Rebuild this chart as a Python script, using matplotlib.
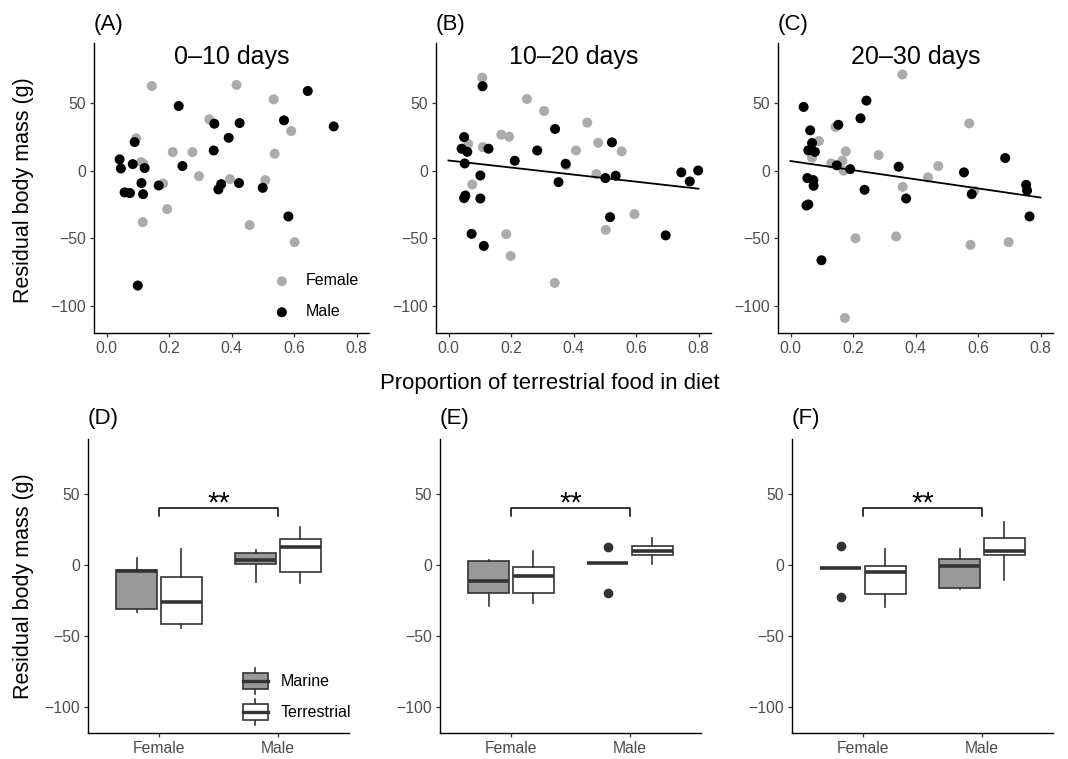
import matplotlib
matplotlib.use('Agg')
import matplotlib.pyplot as plt
from matplotlib.legend_handler import HandlerBase
from matplotlib.patches import Rectangle, Patch
from matplotlib.lines import Line2D
import numpy as np

plt.rcParams['font.family'] = ['Liberation Sans', 'DejaVu Sans']

# ---- scatter data (proportion terrestrial food, residual mass) ----
a_fem_x = [0.145, 0.416, 0.535, 0.329, 0.591, 0.095, 0.111, 0.118, 0.212, 0.275,
           0.538, 0.296, 0.395, 0.508, 0.181, 0.194, 0.116, 0.458, 0.602]
a_fem_y = [62.7, 63.5, 52.8, 38.0, 29.4, 24.0, 6.4, 5.2, 13.8, 13.8,
           12.6, -4.0, -6.2, -6.9, -9.4, -28.4, -38.0, -40.2, -52.8]
a_male_x = [0.644, 0.231, 0.568, 0.727, 0.345, 0.426, 0.391, 0.090, 0.343, 0.042,
            0.046, 0.084, 0.243, 0.122, 0.112, 0.167, 0.058, 0.075, 0.117, 0.424,
            0.367, 0.358, 0.500, 0.582, 0.100]
a_male_y = [59.0, 47.9, 37.3, 32.8, 34.8, 35.3, 24.4, 21.2, 15.0, 8.4,
            1.7, 4.9, 3.5, 2.0, -9.1, -10.9, -16.0, -16.5, -17.3, -9.1,
            -9.9, -13.8, -12.6, -33.8, -84.9]

b_fem_x = [0.108, 0.251, 0.306, 0.444, 0.169, 0.194, 0.479, 0.063, 0.110, 0.408,
           0.554, 0.376, 0.473, 0.076, 0.595, 0.503, 0.185, 0.199, 0.340]
b_fem_y = [68.9, 53.1, 44.2, 35.6, 26.7, 25.2, 20.7, 20.0, 17.5, 15.0,
           14.3, 4.0, -2.5, -10.1, -32.1, -43.7, -46.9, -63.0, -83.0]
b_male_x = [0.109, 0.050, 0.341, 0.523, 0.042, 0.060, 0.128, 0.284, 0.212, 0.052,
            0.375, 0.102, 0.352, 0.502, 0.535, 0.745, 0.772, 0.799, 0.054, 0.050,
            0.102, 0.517, 0.074, 0.113, 0.695]
b_male_y = [62.5, 24.9, 30.9, 21.0, 16.3, 14.0, 16.3, 15.0, 7.4, 5.4,
            5.2, -3.5, -8.4, -5.4, -3.7, -1.2, -7.9, 0.2, -18.3, -20.2,
            -20.5, -34.3, -46.7, -55.6, -47.8]

c_fem_x = [0.358, 0.572, 0.144, 0.091, 0.177, 0.282, 0.069, 0.166, 0.130, 0.473,
           0.170, 0.440, 0.359, 0.588, 0.208, 0.338, 0.576, 0.698, 0.174]
c_fem_y = [71.2, 35.0, 32.3, 22.0, 14.3, 11.6, 9.6, 7.4, 5.4, 3.5,
           0.0, -4.9, -11.9, -14.8, -49.9, -48.6, -54.8, -52.8, -108.9]
c_male_x = [0.243, 0.042, 0.224, 0.153, 0.063, 0.069, 0.057, 0.078, 0.687, 0.148,
            0.346, 0.191, 0.555, 0.054, 0.073, 0.074, 0.237, 0.754, 0.757, 0.580,
            0.370, 0.051, 0.057, 0.765, 0.099]
c_male_y = [51.9, 47.2, 38.8, 34.0, 29.9, 20.5, 15.1, 14.0, 9.4, 4.0,
            3.0, 1.2, -1.2, -5.4, -6.9, -11.1, -14.1, -10.4, -14.6, -17.3,
            -20.5, -25.7, -24.9, -33.8, -66.2]

# fitted lines (intercept, slope) for panels B and C
fit_b = (7.6, -26.1)
fit_c = (7.2, -33.75)

periods = ['0\u201310 days', '10\u201320 days', '20\u201330 days']

# ---- boxplot summaries: order Female-Marine, Female-Terr, Male-Marine, Male-Terr ----
d_med = [-4.0, -25.8, 3.5, 12.9]
d_q1 = [-31.2, -41.5, 0.5, -5.2]
d_q3 = [-3.5, -8.2, 8.5, 18.5]
d_lo = [-33.0, -44.6, -11.7, -12.4]
d_hi = [4.7, 11.3, 10.8, 26.8]
d_out = [[], [], [], []]

e_med = [-11.3, -7.7, 1.4, 9.9]
e_q1 = [-20.0, -20.0, 1.4, 6.8]
e_q3 = [3.0, -1.2, 1.4, 13.8]
e_lo = [-28.6, -27.0, 1.4, 0.7]
e_hi = [3.9, 10.3, 1.4, 18.8]
e_out = [[], [], [12.7, -20.0], []]

f_med = [-2.3, -4.7, -0.5, 10.0]
f_q1 = [-2.3, -20.4, -16.0, 7.0]
f_q3 = [-2.3, -0.5, 4.2, 19.2]
f_lo = [-2.3, -29.3, -17.0, -10.8]
f_hi = [-2.3, 11.7, 11.7, 30.3]
f_out = [[13.8, -22.8], [], [], []]

sexes = ['Female', 'Male']
diets = ['Marine', 'Terrestrial']
diet_fill = {'Marine': '#999999', 'Terrestrial': 'white'}

W, H = 1068, 759
GREY_PT = '#ABABAB'
LINE = '#333333'
TICK_COL = '#4D4D4D'


def px_axes(fig, left, top, width, height):
    return fig.add_axes([left / W, 1 - (top + height) / H, width / W, height / H])


def style(ax):
    for s in ['top', 'right']:
        ax.spines[s].set_visible(False)
    for s in ['left', 'bottom']:
        ax.spines[s].set_linewidth(1.0)
        ax.spines[s].set_color('black')
    ax.tick_params(length=3, width=0.9, color=LINE, labelcolor=TICK_COL,
                   labelsize=11.3, pad=2.5)
    ax.set_yticks([-100, -50, 0, 50])


def panel_label(ax, txt, off):
    ax.annotate(txt, xy=(0, 1), xycoords='axes fraction', xytext=(0, off),
                textcoords='offset points', ha='left', va='center', fontsize=16)


class BoxHandler(HandlerBase):
    def create_artists(self, legend, orig_handle, xdescent, ydescent,
                       width, height, fontsize, trans):
        x0, y0 = -xdescent, -ydescent
        bh = height * 0.62
        by = y0 + (height - bh) / 2
        xm = x0 + width / 2
        box = Rectangle((x0, by), width, bh, facecolor=orig_handle.get_facecolor(),
                        edgecolor=LINE, lw=1.2, transform=trans)
        w1 = Line2D([xm, xm], [y0, by], color=LINE, lw=1.2, transform=trans)
        w2 = Line2D([xm, xm], [by + bh, y0 + height], color=LINE, lw=1.2, transform=trans)
        med = Line2D([x0, x0 + width], [y0 + height / 2] * 2, color=LINE, lw=2.4,
                     transform=trans)
        return [w1, w2, box, med]


fig = plt.figure(figsize=(W / 100, H / 100), dpi=100)

scatter_sets = [
    (a_fem_x, a_fem_y, a_male_x, a_male_y, None),
    (b_fem_x, b_fem_y, b_male_x, b_male_y, fit_b),
    (c_fem_x, c_fem_y, c_male_x, c_male_y, fit_c),
]
top_left = [94, 436, 778]
for i, (fx, fy, mx, my, fit) in enumerate(scatter_sets):
    ax = px_axes(fig, top_left[i], 43, 275, 290)
    ax.scatter(fx, fy, s=52, color=GREY_PT, edgecolors='none', label='Female', zorder=2)
    ax.scatter(mx, my, s=52, color='black', edgecolors='none', label='Male', zorder=3)
    if fit is not None:
        xs = np.array([0.0, 0.8])
        ax.plot(xs, fit[0] + fit[1] * xs, color='black', lw=1.3, zorder=4)
    ax.set_xlim(-0.04, 0.84)
    ax.set_ylim(-120, 94.5)
    ax.set_xticks([0.0, 0.2, 0.4, 0.6, 0.8])
    ax.set_xticklabels(['0.0', '0.2', '0.4', '0.6', '0.8'])
    style(ax)
    ax.text(0.4, 84, periods[i], ha='center', va='center', fontsize=18)
    panel_label(ax, '(' + 'ABC'[i] + ')', 13.5)
    if i == 0:
        ax.legend(loc='center', bbox_to_anchor=(0.809, 0.126), frameon=False,
                  fontsize=11.5, handlelength=1.0, handletextpad=1.0,
                  labelspacing=1.0, borderpad=0.2, scatterpoints=1)

box_sets = [
    (d_med, d_q1, d_q3, d_lo, d_hi, d_out),
    (e_med, e_q1, e_q3, e_lo, e_hi, e_out),
    (f_med, f_q1, f_q3, f_lo, f_hi, f_out),
]
bot_left = [88, 440, 792]
for i, (med, q1, q3, lo, hi, out) in enumerate(box_sets):
    ax = px_axes(fig, bot_left[i], 439, 261, 294)
    stats, pos, fills = [], [], []
    k = 0
    for si, sex in enumerate(sexes):
        for di, diet in enumerate(diets):
            stats.append(dict(med=med[k], q1=q1[k], q3=q3[k], whislo=lo[k],
                              whishi=hi[k], fliers=out[k]))
            pos.append(si + 1 + (-0.1875 if di == 0 else 0.1875))
            fills.append(diet_fill[diet])
            k += 1
    bp = ax.bxp(stats, positions=pos, widths=0.345, patch_artist=True,
                showcaps=False,
                boxprops=dict(edgecolor=LINE, linewidth=1.2),
                whiskerprops=dict(color=LINE, linewidth=1.2),
                medianprops=dict(color=LINE, linewidth=2.6, solid_capstyle='butt'),
                flierprops=dict(marker='o', markerfacecolor=LINE, markeredgecolor=LINE,
                                markersize=6.0))
    for patch, fc in zip(bp['boxes'], fills):
        patch.set_facecolor(fc)
    ax.plot([1, 1, 2, 2], [35, 40, 40, 35], color='black', lw=1.1)
    ax.text(1.5, 37.6, '**', ha='center', va='baseline', fontsize=21)
    ax.set_xlim(0.4, 2.6)
    ax.set_ylim(-118.5, 89)
    ax.set_xticks([1, 2])
    ax.set_xticklabels(sexes)
    style(ax)
    panel_label(ax, '(' + 'DEF'[i] + ')', 14.5)
    if i == 0:
        handles = [Patch(facecolor=diet_fill[d]) for d in diets]
        ax.legend(handles, diets, handler_map={Patch: BoxHandler()},
                  loc='center', bbox_to_anchor=(0.801, 0.124), frameon=False,
                  fontsize=11.5, handlelength=1.56, handleheight=2.12,
                  handletextpad=0.8, labelspacing=0.31, borderpad=0.2)

fig.text(24 / W, 1 - 190 / H, 'Residual body mass (g)', rotation=90,
         ha='center', va='center', fontsize=15.5)
fig.text(24 / W, 1 - 586 / H, 'Residual body mass (g)', rotation=90,
         ha='center', va='center', fontsize=15.5)
fig.text(550 / W, 1 - 383 / H, 'Proportion of terrestrial food in diet',
         ha='center', va='center', fontsize=15.9)

fig.savefig('out.png', dpi=100)
